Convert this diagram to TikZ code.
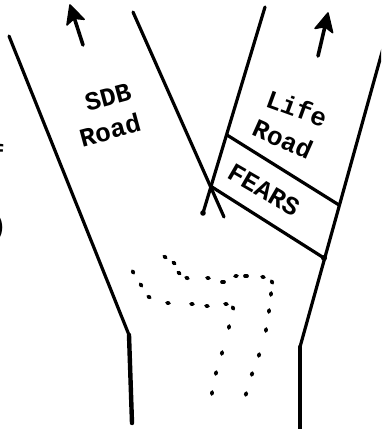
\documentclass[tikz,border=0pt]{standalone}
\usepackage{fontspec}
\setmonofont{Liberation Mono}
\begin{document}
\begin{tikzpicture}[x=1pt,y=-1pt,
  road/.style={line width=3.2pt, line cap=round, line join=round},
  stem/.style={line width=4.4pt, line cap=round},
  lbl/.style={font=\ttfamily\bfseries\fontsize{26}{28}\selectfont, inner sep=0pt},
  dotseg/.style={line width=3.7pt, line cap=round},
  shaft/.style={line width=3.6pt, line cap=round},
  arrowhead/.style={fill=black, draw=black, line width=1.6pt, line join=round}
]
\useasboundingbox (0,0) rectangle (381,429);
\fill[white] (0,0) rectangle (381,429);
\clip (0,0) rectangle (381,429);
% road edges
\coordinate (L1) at (9,36);   \coordinate (L2) at (129,335); \coordinate (L3) at (132,423);
\coordinate (S1) at (133,12); \coordinate (S2) at (224,217);
\coordinate (F1) at (265,7);  \coordinate (F2) at (203,213);
\coordinate (R1) at (384,45); \coordinate (R2) at (300,347); \coordinate (R3) at (300,432);
\coordinate (U1) at (227,135); \coordinate (U2) at (339,205);
\coordinate (D1) at (212,187); \coordinate (D2) at (324,258);
\draw[road] (L1) -- (L2);
\draw[stem] (L2) -- (L3);
\draw[road] (S1) -- (S2);
\draw[road] (F1) -- (F2);
\fill (F2) circle (2.8pt);
\draw[road] (R1) -- (R2);
\draw[stem] (R2) -- (R3);
\draw[road] (U1) -- (U2);
\draw[road] (D1) -- (D2);
\fill (D2) circle (3pt);
% arrows
\coordinate (A1) at (83,45); \coordinate (A0) at (74.6,19);
\draw[shaft] (A1) -- (A0);
\coordinate (At) at (70,5); \coordinate (Ac1) at (84.1,19.3); \coordinate (Ai) at (74.3,18.3); \coordinate (Ac2) at (67,24.9);
\path[arrowhead] (At) -- (Ac1) -- (Ai) -- (Ac2) -- cycle;
\coordinate (B1) at (318,56); \coordinate (B0) at (324.8,27);
\draw[shaft] (B1) -- (B0);
\coordinate (Bt) at (328,13); \coordinate (Bc1) at (332.6,32.6); \coordinate (Bi) at (324.8,26.6); \coordinate (Bc2) at (315.1,28.4);
\path[arrowhead] (Bt) -- (Bc1) -- (Bi) -- (Bc2) -- cycle;
% labels
\node[lbl, rotate=15] (sdb) at (108,97) {SDB};
\node[lbl, rotate=15] (road1) at (110,130) {Road};
\node[lbl, rotate=-20] (life) at (297,108) {Life};
\node[lbl, rotate=-24] (road2) at (283,139) {Road};
\node[lbl, rotate=-30] (fears) at (264,190) {FEARS};
% edge fragments
\node[lbl, anchor=base] (frag1) at (-3,163) {f};
\node[lbl, anchor=base] (frag2) at (-1,234) {)};
% dotted hook
\foreach \x/\y/\a in {165/257/34, 174/263/40, 179/273/40, 187/278/20, 208/278/10,
  223/282/0, 236/276/-10, 246/276/0, 263/277/15, 272/282/60, 271/294/100,
  269/311/100, 266/330/100, 259/355/105, 252/374/108, 246/394/108,
  133/272/60, 141/285/55, 149/297/30, 168/303/10, 192/304/5, 207/306/10,
  226/304/10, 233/308/60, 229/327/100, 222/353/103, 216/373/105, 212/393/100}
  \draw[dotseg] (\x,\y) ++(\a+180:1) -- ++(\a:2);
\end{tikzpicture}
\end{document}
